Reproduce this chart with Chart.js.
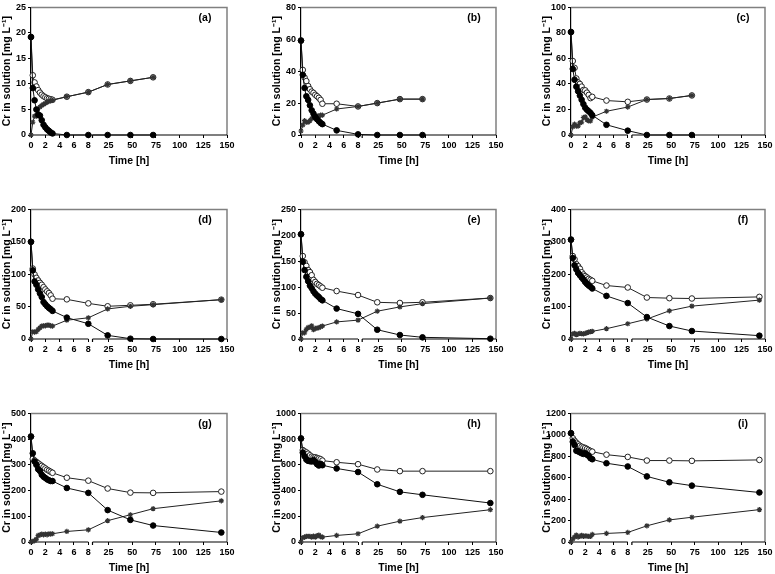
<!DOCTYPE html>
<html><head><meta charset="utf-8">
<script src="https://cdn.jsdelivr.net/npm/chart.js@4.4.1/dist/chart.umd.min.js"></script>
<style>
html,body{margin:0;padding:0;background:#fff;width:775px;height:574px;overflow:hidden;position:relative}
canvas{position:absolute}
</style></head><body>
<script>
// ---- data ----
const times72  = [0,0.25,0.5,0.75,1,1.25,1.5,1.75,2,2.25,2.5,2.75,3,5,8,24,48,72];
const times144 = [0,0.25,0.5,0.75,1,1.25,1.5,1.75,2,2.25,2.5,2.75,3,5,8,24,48,72,144];
const xTickValues = [0,2,4,6,8,25,50,75,100,125,150];
const panelLabels = ['(a)','(b)','(c)','(d)','(e)','(f)','(g)','(h)','(i)'];
const yMaxValues  = [25,80,100,200,250,400,500,1000,1200];
const yStepValues = [5,20,20,50,50,100,100,200,200];

const vi_a  = [19.2,9.2,6.8,5.0,4.0,3.8,2.9,2.0,1.5,1.1,0.8,0.5,0.3,0,0,0,0,0];
const tot_a = [19.2,11.7,10.3,9.5,8.8,8.3,7.9,7.6,7.4,7.2,7.1,7.0,6.9,7.5,8.4,9.9,10.6,11.3];
const iii_a = [0,2.5,3.7,3.7,3.8,5.5,5.8,6.0,6.2,6.4,6.6,6.7,6.8,7.5,8.4,9.9,10.6,11.3];

const vi_b  = [59.2,37.7,29.5,24.3,22,18.6,15.5,13.4,11.3,9.9,8.7,7.6,6.8,2.9,0.4,0,0,0];
const tot_b = [59.2,40.8,36,33.8,30.7,28.7,27.2,26.4,25.2,24.3,23.3,22,19.6,19.6,17.9,20,22.5,22.5];
const iii_b = [2.5,6.2,9,8,8,9,10.3,11,11.3,11.8,12,12.4,12.4,16.3,17.9,20,22.5,22.5];

const vi_c  = [80.7,51.8,43.3,37.9,34.3,30.9,27.6,24.2,21.4,19.8,18.6,17.3,15.5,8,3.4,0,0,0];
const tot_c = [80.7,58,52.6,44.3,41.2,40,37.9,35.3,35,33.2,31.4,28.9,29.9,27,26,27.8,28.6,31];
const iii_c = [0,6.4,8.5,7,7,9.5,10,13.7,14.2,12,11,11,14,18.6,21.9,27.8,28.6,31];

const vi_d  = [150,106,88.8,83.7,76.5,70.4,64.8,57,53.6,50.5,48,45.9,43.4,33,23.5,5.6,0.5,0,0];
const tot_d = [150,108.7,99.5,94.4,90.3,86.7,83.7,80,76.5,73.5,70.9,67.3,62.2,61.2,55,50.5,52,53.6,60.7];
const iii_d = [0,11.2,10.7,11.2,14.8,17.3,19.9,20.4,20.4,21.4,21.4,20.4,19.9,29,32.7,46.4,50.5,53,60.7];

const vi_e  = [202,149,133,120,111.6,103,98,92,87.4,84,81,77,74.6,58.7,48.5,17.9,7.7,3.2,0.6];
const tot_e = [202,160,148,141,133,129,123,114,110,106.5,104,101.4,98.9,92.5,84.8,70.8,69.5,70.8,79];
const iii_e = [0,12,12,18.5,22.3,22.3,25.5,17.9,20.4,21,21.7,23.6,24.9,33,36.4,53.6,61.9,68.2,79];

const vi_f  = [306.7,250,227.7,215,204,197,190,183.6,176,170,165,161,156,133,111,67.7,40,24.6,10.3];
const tot_f = [306.7,256,246,231,224.6,217,206,199,194,190,185.6,182.6,179.5,165,159,128,126,125,130];
const iii_f = [0,15.4,17.4,13.3,15.4,17.4,16.4,15.4,17.4,19.5,21.5,22.6,23.6,31.8,47,61.5,87,101.5,120];

const vi_g  = [410,345,313,300,283,276,261.5,254,249,243.6,240,237,237,210,191,124,86,64,37];
const tot_g = [410,323,317,311.5,306,301,296,291,286,281,277,273,269,250,238.5,208,192,191,196];
const iii_g = [0,2.6,5,11.5,25.6,27,30.8,28,30.8,28,32,30.8,32,41,47.4,83,106,129.5,160];

const vi_h  = [805,695,667,641,631,628,626,638,623,605,595,608,597,572,544,449,390,367,303];
const tot_h = [805,715,705,697,687,674,664,659,659,654,649,644,633,620,605,564,551,551,551];
const iii_h = [0,33,38,44,44,44,38,46,38,49,54,41,38,51,64,123,162,190,251];

const vi_i  = [1015,935,905,852,846,837,828,822,828,815,803,782,772,735,705,612,557,526,462];
const tot_i = [1015,969,945,926,911,898,889,883,877,868,858,849,843,815,794,760,760,757,766];
const iii_i = [0,28,46,65,46,52,62,52,58,55,52,52,71,80,89,151,206,231,302];

const panelTimes = [times72,times72,times72,times144,times144,times144,times144,times144,times144];
const panelVI  = [vi_a,vi_b,vi_c,vi_d,vi_e,vi_f,vi_g,vi_h,vi_i];
const panelTot = [tot_a,tot_b,tot_c,tot_d,tot_e,tot_f,tot_g,tot_h,tot_i];
const panelIII = [iii_a,iii_b,iii_c,iii_d,iii_e,iii_f,iii_g,iii_h,iii_i];

// ---- layout ----
const colLeft  = [31,301,571];
const colRight = [227,496,765];
const rowTop   = [6,208,412];
const rowBot   = [135,339,542];
const PAD_TOP = 6, PAD_RIGHT = 10, YAX_W = 31, XAX_H = 34;
const FONT = "'Liberation Sans', Arial, sans-serif";

// broken time axis: 0-8 linear, gap, 8-150 linear
const BREAK_T = 8, T_MAX = 150, SEG1 = 0.2925, GAP = 0.0213;
function brk(t){
  if (t <= BREAK_T) return t / BREAK_T * SEG1;
  return SEG1 + GAP + (t - BREAK_T) / (T_MAX - BREAK_T) * (1 - SEG1 - GAP);
}
function unbrk(d){
  if (d <= SEG1) return d / SEG1 * BREAK_T;
  return BREAK_T + (d - SEG1 - GAP) / (1 - SEG1 - GAP) * (T_MAX - BREAK_T);
}
class BrokenTimeScale extends Chart.LinearScale {
  getPixelForValue(v){
    if (v === null || v === undefined || isNaN(v)) return NaN;
    return this.getPixelForDecimal(brk(v));
  }
  getValueForPixel(p){ return unbrk(this.getDecimalForPixel(p)); }
}
BrokenTimeScale.id = 'brokenTime';
BrokenTimeScale.defaults = {};
Chart.register(BrokenTimeScale);

const framePlugin = {
  id: 'frame',
  beforeDatasetsDraw(chart, args, opts){
    const {ctx, chartArea:{left,right,top,bottom}, scales:{x}} = chart;
    ctx.save();
    ctx.strokeStyle = '#808080'; ctx.lineWidth = 1.5;
    ctx.beginPath(); ctx.moveTo(left, top); ctx.lineTo(right, top); ctx.lineTo(right, bottom); ctx.stroke();
    const x8 = x.getPixelForValue(8);
    const s2 = x.getPixelForDecimal(SEG1 + GAP);
    ctx.strokeStyle = '#000'; ctx.lineWidth = 1.2;
    ctx.beginPath();
    ctx.moveTo(left, bottom); ctx.lineTo(x8, bottom);
    ctx.moveTo(s2, bottom); ctx.lineTo(right, bottom);
    ctx.moveTo(s2, bottom); ctx.lineTo(s2, bottom + 3);
    ctx.stroke();
    ctx.restore();
  },
  afterDraw(chart, args, opts){
    const {ctx, chartArea:{right,top}} = chart;
    ctx.save();
    ctx.fillStyle = '#000';
    ctx.font = 'bold 10.5px ' + FONT;
    ctx.textAlign = 'center'; ctx.textBaseline = 'middle';
    ctx.fillText(opts.label, right - 22, top + 11);
    ctx.restore();
  }
};
Chart.register(framePlugin);

function makePanel(i){
  const col = i % 3, row = Math.floor(i / 3);
  const plotW = colRight[col] - colLeft[col];
  const plotH = rowBot[row] - rowTop[row];
  const cv = document.createElement('canvas');
  const W = YAX_W + plotW + PAD_RIGHT, H = PAD_TOP + plotH + XAX_H;
  cv.width = W; cv.height = H;
  cv.style.width = W + 'px'; cv.style.height = H + 'px';
  cv.style.left = (colLeft[col] - YAX_W) + 'px';
  cv.style.top = (rowTop[row] - PAD_TOP) + 'px';
  document.body.appendChild(cv);
  const t = panelTimes[i];
  const pts = arr => t.map((tt, k) => ({x: tt, y: arr[k]}));
  new Chart(cv.getContext('2d'), {
    type: 'line',
    data: {
      datasets: [
        { label: 'Cr(VI)', data: pts(panelVI[i]), borderColor: '#111', borderWidth: 1,
          pointStyle: 'circle', pointRadius: 2.8, pointBackgroundColor: '#000', pointBorderColor: '#000',
          pointBorderWidth: 1, tension: 0, clip: false },
        { label: 'Cr(III)', data: pts(panelIII[i]), borderColor: '#222', borderWidth: 1,
          pointStyle: 'star', pointRadius: 2.6, pointBackgroundColor: '#444', pointBorderColor: '#333',
          pointBorderWidth: 1.2, tension: 0, clip: false },
        { label: 'Total Cr', data: pts(panelTot[i]), borderColor: '#222', borderWidth: 1,
          pointStyle: 'circle', pointRadius: 2.8, pointBackgroundColor: '#fff', pointBorderColor: '#222',
          pointBorderWidth: 1, tension: 0, clip: false }
      ]
    },
    options: {
      responsive: false, animation: false, devicePixelRatio: 1,
      layout: { padding: { left: 0, top: PAD_TOP, right: PAD_RIGHT, bottom: 0 } },
      plugins: { legend: { display: false }, tooltip: { enabled: false }, frame: { label: panelLabels[i] } },
      scales: {
        x: {
          type: 'brokenTime', min: 0, max: T_MAX, offset: false,
          afterBuildTicks: ax => { ax.ticks = xTickValues.map(v => ({ value: v })); },
          afterFit: ax => { ax.height = XAX_H; },
          border: { display: false },
          grid: { display: true, drawOnChartArea: false, drawTicks: true, tickLength: 3, color: '#000', lineWidth: 1 },
          ticks: { autoSkip: false, maxRotation: 0, minRotation: 0, padding: 2, color: '#000',
                   font: { family: FONT, size: 9, weight: 'bold' }, callback: v => String(v) },
          title: { display: true, text: 'Time [h]', color: '#000', padding: { top: 0, bottom: 2 },
                   font: { family: FONT, size: 10.5, weight: 'bold' } }
        },
        y: {
          type: 'linear', min: 0, max: yMaxValues[i],
          afterFit: ax => { ax.width = YAX_W; },
          border: { display: true, color: '#000', width: 1.2 },
          grid: { display: true, drawOnChartArea: false, drawTicks: true, tickLength: 3, color: '#000', lineWidth: 1 },
          ticks: { stepSize: yStepValues[i], padding: 2, color: '#000',
                   font: { family: FONT, size: 9, weight: 'bold' }, callback: v => String(v) },
          title: { display: true, text: 'Cr in solution [mg L\u207B\u00B9]', color: '#000', padding: { top: 1, bottom: 0 },
                   font: { family: FONT, size: 10.5, weight: 'bold' } }
        }
      }
    }
  });
}
for (let i = 0; i < 9; i++) makePanel(i);
</script>
</body></html>
